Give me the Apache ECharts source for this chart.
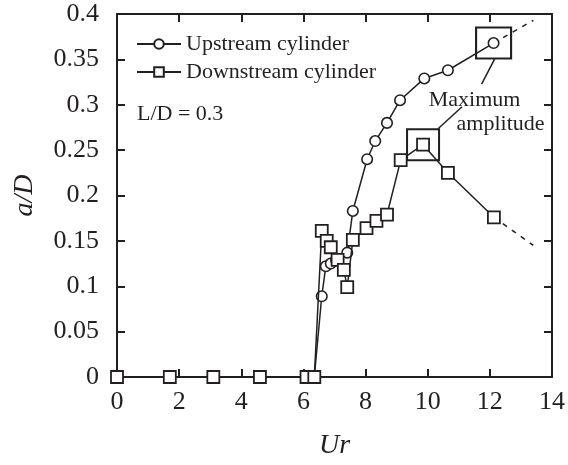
<!DOCTYPE html>
<html>
<head>
<meta charset="utf-8">
<script src="https://cdn.jsdelivr.net/npm/echarts@6/dist/echarts.min.js"></script>
<style>
  html, body { margin: 0; padding: 0; background: #fff; }
  #chart { width: 568px; height: 465px; }
</style>
</head>
<body>
<div id="chart"></div>
<script>
// Oscillation amplitude of two tandem cylinders versus reduced velocity
const seriesNames = ['Upstream cylinder', 'Downstream cylinder'];

const upstreamUr = [0, 1.7, 3.1, 4.6, 6.1, 6.35, 6.59, 6.72, 6.88, 7.05, 7.41, 7.59, 8.05, 8.31, 8.69, 9.11, 9.89, 10.65, 12.12];
const upstreamAD = [0, 0, 0, 0, 0, 0, 0.089, 0.122, 0.125, 0.129, 0.137, 0.183, 0.240, 0.260, 0.280, 0.305, 0.329, 0.338, 0.368];

const downstreamUr = [0, 1.7, 3.1, 4.6, 6.1, 6.35, 6.59, 6.75, 6.88, 7.1, 7.3, 7.41, 7.59, 8.03, 8.35, 8.69, 9.13, 9.85, 10.65, 12.13];
const downstreamAD = [0, 0, 0, 0, 0, 0, 0.161, 0.150, 0.143, 0.129, 0.118, 0.099, 0.151, 0.164, 0.172, 0.179, 0.239, 0.256, 0.225, 0.176];

// dashed trend beyond the last measurement
const upstreamTrendUr = [12.12, 13.4];
const upstreamTrendAD = [0.368, 0.393];
const downstreamTrendUr = [12.13, 13.4];
const downstreamTrendAD = [0.176, 0.145];

const xTicks = [0, 2, 4, 6, 8, 10, 12, 14];
const yTicks = [0, 0.05, 0.1, 0.15, 0.2, 0.25, 0.3, 0.35, 0.4];

const ink = '#231f20';
const serif = '"Liberation Serif", "DejaVu Serif", serif';

const pairs = (xs, ys) => xs.map((x, i) => [x, ys[i]]);

const chart = echarts.init(document.getElementById('chart'), null, { renderer: 'canvas' });

const axisBase = {
  type: 'value',
  axisLine: { show: true, onZero: false, lineStyle: { color: ink, width: 2 } },
  axisTick: { show: true, inside: true, length: 8, lineStyle: { color: ink, width: 2 } },
  splitLine: { show: false }
};

const boxMark = (size) => ({
  symbol: 'rect',
  symbolSize: size,
  silent: true,
  label: { show: false },
  itemStyle: { color: 'rgba(0,0,0,0)', borderColor: ink, borderWidth: 2 },
  data: [{ type: 'max', valueDim: 'y' }]
});

const option = {
  animation: false,
  backgroundColor: '#fff',
  grid: { left: 117, top: 14, width: 440, height: 370, containLabel: false },
  xAxis: [
    Object.assign({}, axisBase, {
      min: xTicks[0], max: xTicks[xTicks.length - 1], interval: 2, position: 'bottom',
      axisLabel: { color: ink, fontFamily: serif, fontSize: 26, margin: 12 },
      name: 'Ur', nameLocation: 'middle', nameGap: 55,
      nameTextStyle: { color: ink, fontFamily: serif, fontSize: 28, fontStyle: 'italic' }
    }),
    Object.assign({}, axisBase, {
      min: xTicks[0], max: xTicks[xTicks.length - 1], interval: 2, position: 'top',
      axisLabel: { show: false }
    })
  ],
  yAxis: [
    Object.assign({}, axisBase, {
      min: yTicks[0], max: yTicks[yTicks.length - 1], interval: 0.05, position: 'left',
      axisLabel: { color: ink, fontFamily: serif, fontSize: 26, margin: 18 },
      name: 'a/D', nameLocation: 'middle', nameGap: 78, nameRotate: 90,
      nameTextStyle: { color: ink, fontFamily: serif, fontSize: 28, fontStyle: 'italic' }
    }),
    Object.assign({}, axisBase, {
      min: yTicks[0], max: yTicks[yTicks.length - 1], interval: 0.05, position: 'right',
      axisLabel: { show: false }
    })
  ],
  legend: {
    data: seriesNames,
    orient: 'vertical',
    left: 136,
    top: 33,
    padding: 0,
    itemWidth: 44,
    itemHeight: 12,
    itemGap: 6,
    textStyle: { color: ink, fontFamily: serif, fontSize: 22 }
  },
  series: [
    {
      name: seriesNames[0],
      type: 'line',
      data: pairs(upstreamUr, upstreamAD),
      symbol: 'circle',
      symbolSize: 10.5,
      showAllSymbol: true,
      z: 3,
      lineStyle: { color: ink, width: 1.5 },
      itemStyle: { color: '#fff', borderColor: ink, borderWidth: 1.6 },
      markPoint: boxMark([35, 31])
    },
    {
      name: seriesNames[1],
      type: 'line',
      data: pairs(downstreamUr, downstreamAD),
      symbol: 'rect',
      symbolSize: 12,
      showAllSymbol: true,
      z: 4,
      lineStyle: { color: ink, width: 1.5 },
      itemStyle: { color: '#fff', borderColor: ink, borderWidth: 1.8 },
      markPoint: boxMark([32, 31])
    },
    {
      name: 'upstream trend',
      type: 'line',
      data: pairs(upstreamTrendUr, upstreamTrendAD),
      showSymbol: false,
      z: 2,
      lineStyle: { color: ink, width: 1.5, type: [5, 6] }
    },
    {
      name: 'downstream trend',
      type: 'line',
      data: pairs(downstreamTrendUr, downstreamTrendAD),
      showSymbol: false,
      z: 2,
      lineStyle: { color: ink, width: 1.5, type: [5, 6] }
    }
  ]
};

chart.setOption(option);

// Annotation text and leader lines, anchored to the two maximum points
const maxPoint = (xs, ys) => {
  let k = 0;
  ys.forEach((v, i) => { if (v > ys[k]) k = i; });
  return chart.convertToPixel({ gridIndex: 0 }, [xs[k], ys[k]]);
};
const pUp = maxPoint(upstreamUr, upstreamAD);
const pDown = maxPoint(downstreamUr, downstreamAD);

chart.setOption({
  graphic: [
    {
      type: 'text', left: 137, top: 103,
      style: { text: 'L/D = 0.3', fill: ink, font: '22px ' + serif }
    },
    {
      type: 'text', x: pUp[0] - 19, y: pUp[1] + 57,
      style: { text: 'Maximum', fill: ink, font: '22px ' + serif, align: 'center', verticalAlign: 'middle' }
    },
    {
      type: 'text', x: pUp[0] + 7, y: pUp[1] + 81,
      style: { text: 'amplitude', fill: ink, font: '22px ' + serif, align: 'center', verticalAlign: 'middle' }
    },
    {
      type: 'line', silent: true,
      shape: { x1: pUp[0] + 1, y1: pUp[1] + 16, x2: pUp[0] - 12, y2: pUp[1] + 41 },
      style: { stroke: ink, lineWidth: 1.5 }
    },
    {
      type: 'line', silent: true,
      shape: { x1: pDown[0] + 15, y1: pDown[1] - 16, x2: pDown[0] + 39, y2: pDown[1] - 38 },
      style: { stroke: ink, lineWidth: 1.5 }
    }
  ]
});
</script>
</body>
</html>
